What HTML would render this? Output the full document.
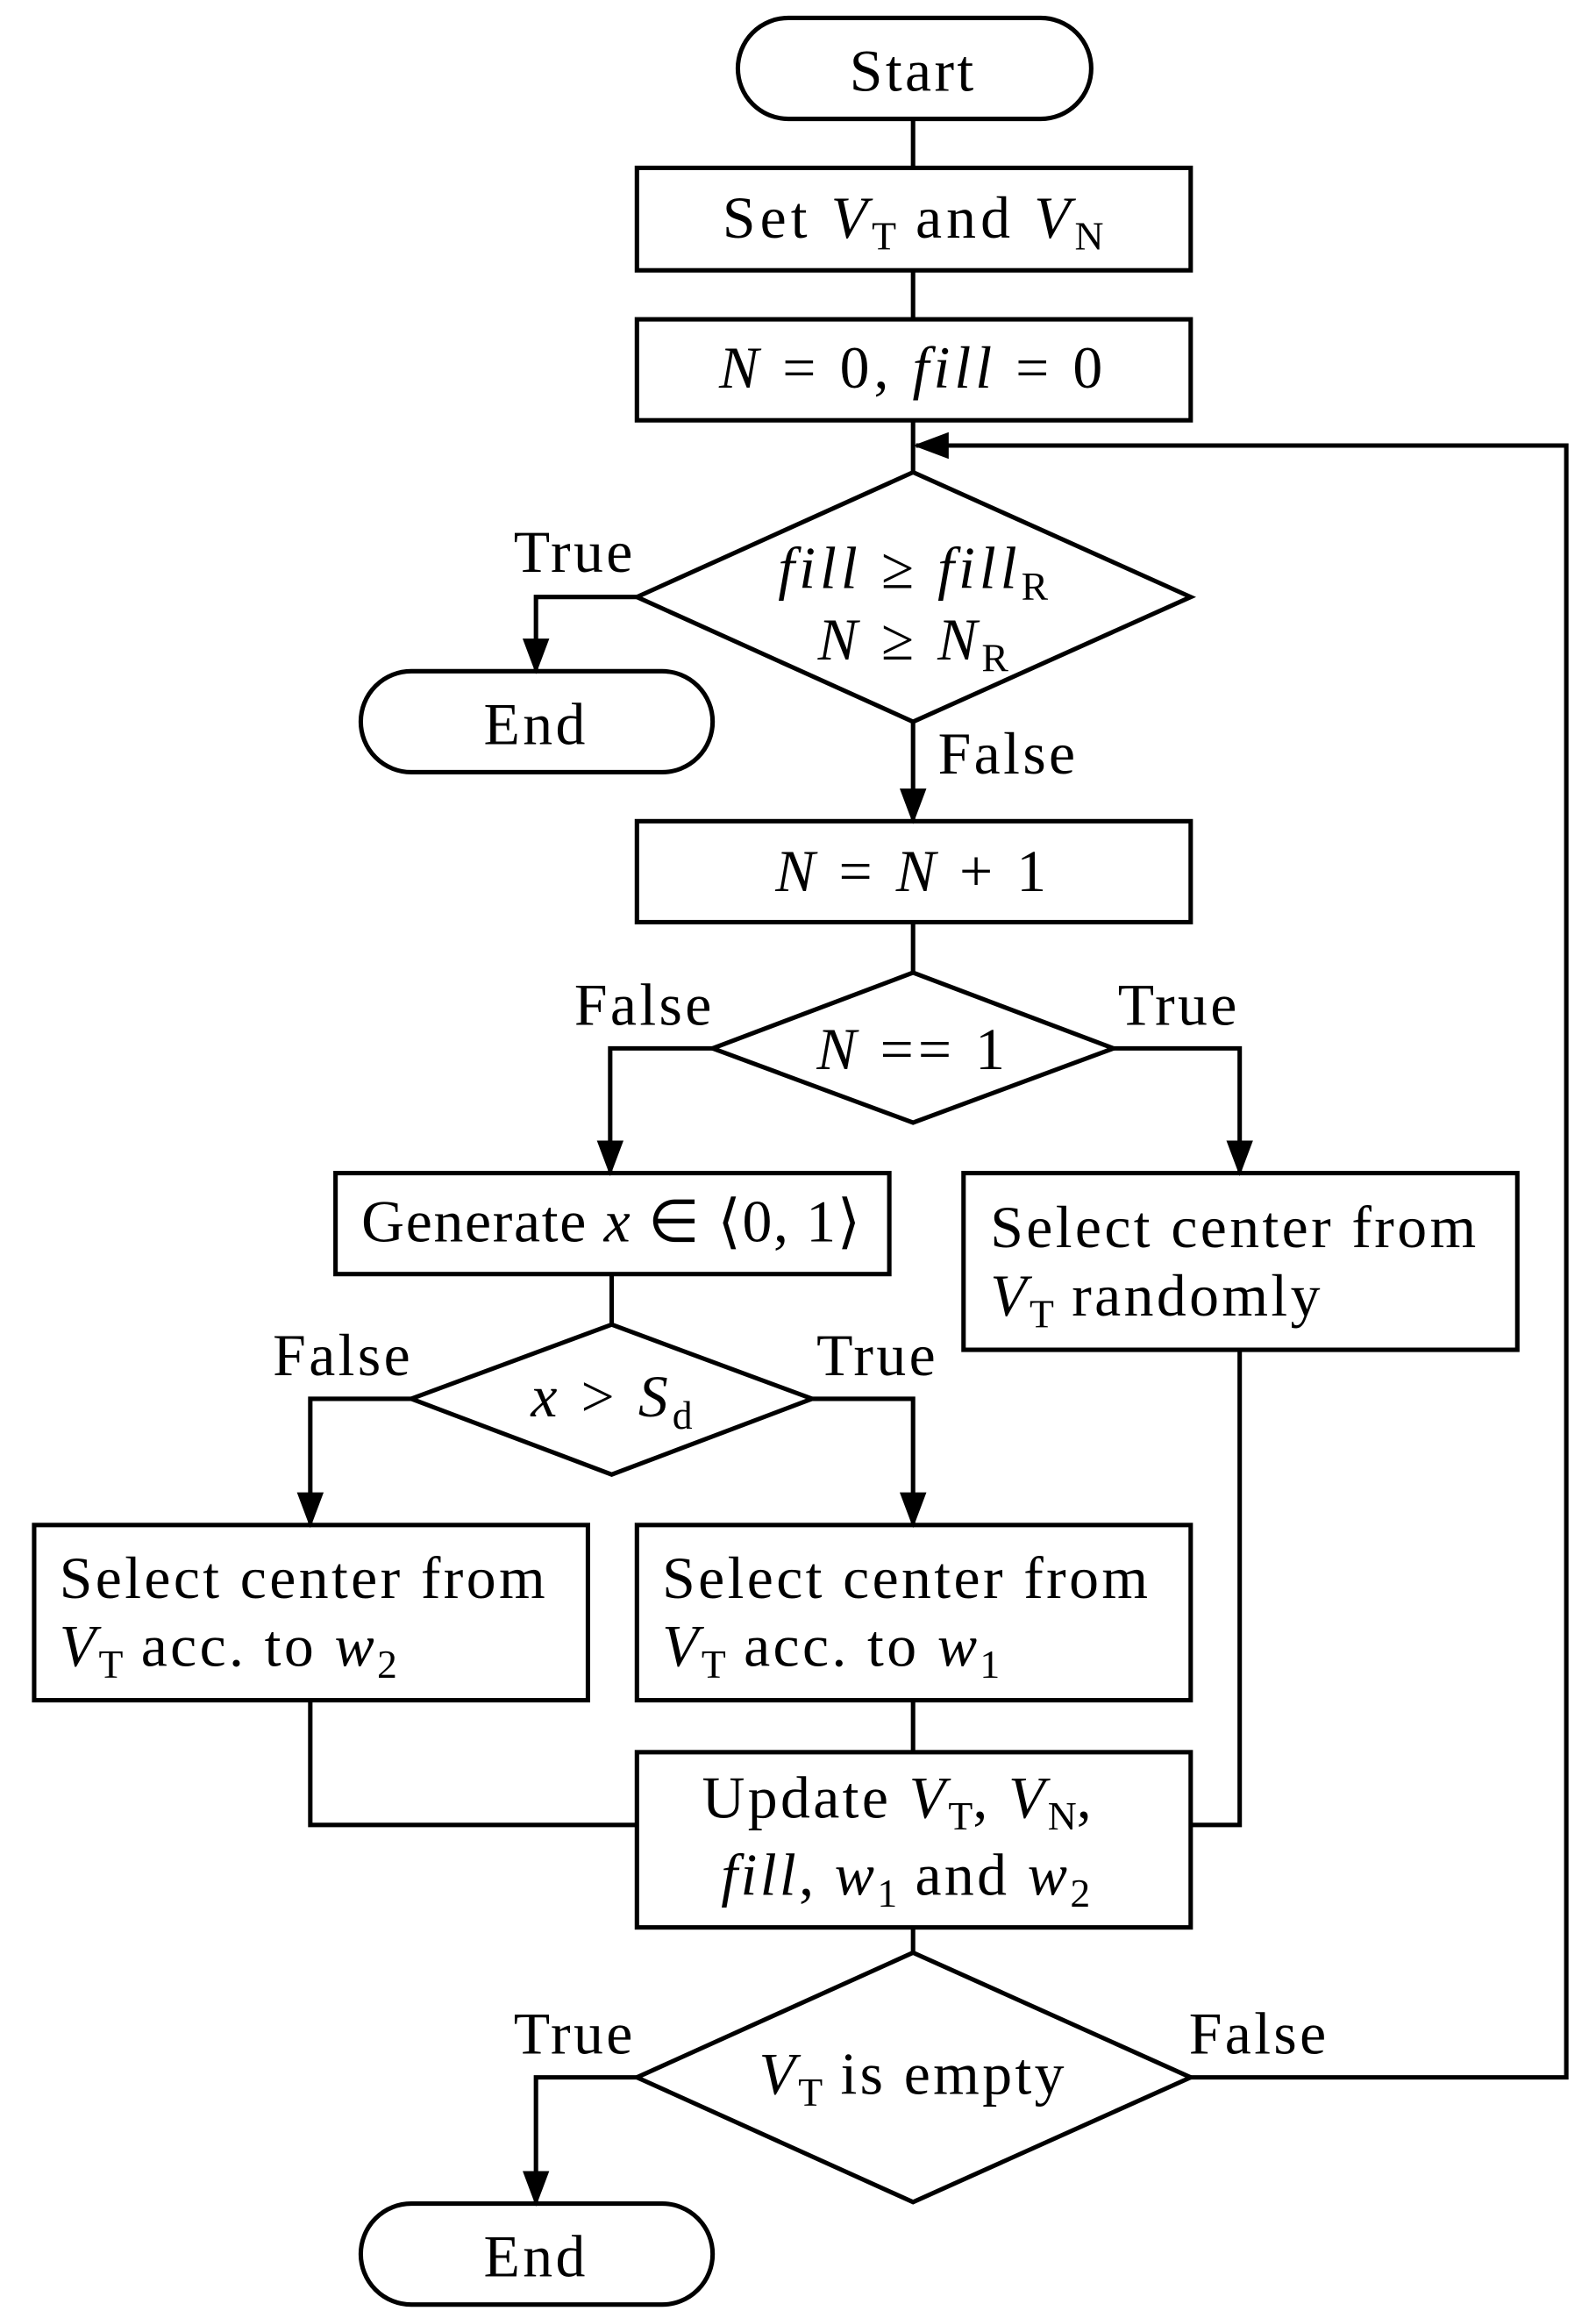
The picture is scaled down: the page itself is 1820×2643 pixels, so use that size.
<!DOCTYPE html>
<html><head><meta charset="utf-8"><style>
html,body{margin:0;padding:0;background:#fff}
svg{display:block}
text{font-family:"Liberation Serif",serif;font-size:40px;fill:#000;letter-spacing:2px}
.i{font-style:italic}
.s{font-size:27px;letter-spacing:0}
</style></head><body>
<svg width="1820" height="2643" viewBox="0 0 1075 1561" xmlns="http://www.w3.org/2000/svg">
<defs>
<marker id="b" viewBox="0 0 24 24" refX="22" refY="12" markerWidth="24" markerHeight="24" orient="auto" markerUnits="userSpaceOnUse"><path d="M0,3 L24,12 L0,21 z" fill="#000"/></marker></defs>
<g fill="none" stroke="#000" stroke-width="3">
<rect x="497" y="12" width="238" height="68" rx="34"/>
<rect x="429" y="113" width="373" height="69"/>
<rect x="429" y="215" width="373" height="68"/>
<polygon points="615,318 802,402 615,486 429,402"/>
<rect x="243" y="452" width="237" height="68" rx="34"/>
<rect x="429" y="553" width="373" height="68"/>
<polygon points="615,655 750,706 615,756 480,706"/>
<rect x="226" y="790" width="373" height="68"/>
<rect x="649" y="790" width="373" height="119"/>
<polygon points="412,892 547,942 412,993 277,942"/>
<rect x="23" y="1027" width="373" height="118"/>
<rect x="429" y="1027" width="373" height="118"/>
<rect x="429" y="1180" width="373" height="118"/>
<polygon points="615,1315 802,1399 615,1483 429,1399"/>
<rect x="243" y="1484" width="237" height="68" rx="34"/>
<path d="M615,80V113M615,182V215M615,283V318M615,621V655M412,858V892M615,1145V1180M615,1298V1315"/>
<path d="M802,1399H1055V300H617" marker-end="url(#b)"/>
<path d="M429,402H361V452" marker-end="url(#b)"/>
<path d="M615,486V553" marker-end="url(#b)"/>
<path d="M480,706H411V790" marker-end="url(#b)"/>
<path d="M750,706H835V790" marker-end="url(#b)"/>
<path d="M277,942H209V1027" marker-end="url(#b)"/>
<path d="M547,942H615V1027" marker-end="url(#b)"/>
<path d="M209,1145V1229H429M835,909V1229H802"/>
<path d="M429,1399H361V1484" marker-end="url(#b)"/>
</g>
<text x="615" y="61" text-anchor="middle">Start</text>
<text x="615" y="160" text-anchor="middle" style="letter-spacing:3px">Set <tspan class="i">V</tspan><tspan class="s" dy="8">T</tspan><tspan dy="-8"> and </tspan><tspan class="i">V</tspan><tspan class="s" dy="8">N</tspan></text>
<text x="615" y="261" text-anchor="middle" style="letter-spacing:3px"><tspan class="i">N</tspan> = 0, <tspan class="i">fill</tspan> = 0</text>
<text x="615" y="396" text-anchor="middle" style="letter-spacing:3px"><tspan class="i">fill</tspan> ≥ <tspan class="i">fill</tspan><tspan class="s" dy="8">R</tspan></text>
<text x="615" y="444" text-anchor="middle" style="letter-spacing:3px"><tspan class="i">N</tspan> ≥ <tspan class="i">N</tspan><tspan class="s" dy="8">R</tspan></text>
<text x="387" y="385" text-anchor="middle">True</text>
<text x="361" y="501" text-anchor="middle">End</text>
<text x="679" y="521" text-anchor="middle">False</text>
<text x="615" y="600" text-anchor="middle" style="letter-spacing:3px"><tspan class="i">N</tspan> = <tspan class="i">N</tspan> + 1</text>
<text x="615" y="720" text-anchor="middle" style="letter-spacing:3px"><tspan class="i">N</tspan> == 1</text>
<text x="434" y="690" text-anchor="middle">False</text>
<text x="794" y="690" text-anchor="middle">True</text>
<text x="412" y="836" text-anchor="middle" style="letter-spacing:1px">Generate <tspan class="i">x</tspan> ∈ ⟨0, 1⟩</text>
<text x="667" y="840">Select center from</text>
<text x="667" y="886"><tspan class="i">V</tspan><tspan class="s" dy="8">T</tspan><tspan dy="-8"> randomly</tspan></text>
<text x="412" y="954" text-anchor="middle" style="letter-spacing:3px"><tspan class="i">x</tspan> &gt; <tspan class="i">S</tspan><tspan class="s" dy="8">d</tspan></text>
<text x="231" y="926" text-anchor="middle">False</text>
<text x="591" y="926" text-anchor="middle">True</text>
<text x="40" y="1076">Select center from</text>
<text x="40" y="1122"><tspan class="i">V</tspan><tspan class="s" dy="8">T</tspan><tspan dy="-8"> acc. to </tspan><tspan class="i">w</tspan><tspan class="s" dy="8">2</tspan></text>
<text x="446" y="1076">Select center from</text>
<text x="446" y="1122"><tspan class="i">V</tspan><tspan class="s" dy="8">T</tspan><tspan dy="-8"> acc. to </tspan><tspan class="i">w</tspan><tspan class="s" dy="8">1</tspan></text>
<text x="605" y="1224" text-anchor="middle">Update <tspan class="i">V</tspan><tspan class="s" dy="8">T</tspan><tspan dy="-8">, </tspan><tspan class="i">V</tspan><tspan class="s" dy="8">N</tspan><tspan dy="-8">,</tspan></text>
<text x="610" y="1276" text-anchor="middle"><tspan class="i">fill</tspan>, <tspan class="i">w</tspan><tspan class="s" dy="8">1</tspan><tspan dy="-8"> and </tspan><tspan class="i">w</tspan><tspan class="s" dy="8">2</tspan></text>
<text x="615" y="1410" text-anchor="middle"><tspan class="i">V</tspan><tspan class="s" dy="8">T</tspan><tspan dy="-8"> is empty</tspan></text>
<text x="387" y="1383" text-anchor="middle">True</text>
<text x="848" y="1383" text-anchor="middle">False</text>
<text x="361" y="1533" text-anchor="middle">End</text>
</svg>
</body></html>
